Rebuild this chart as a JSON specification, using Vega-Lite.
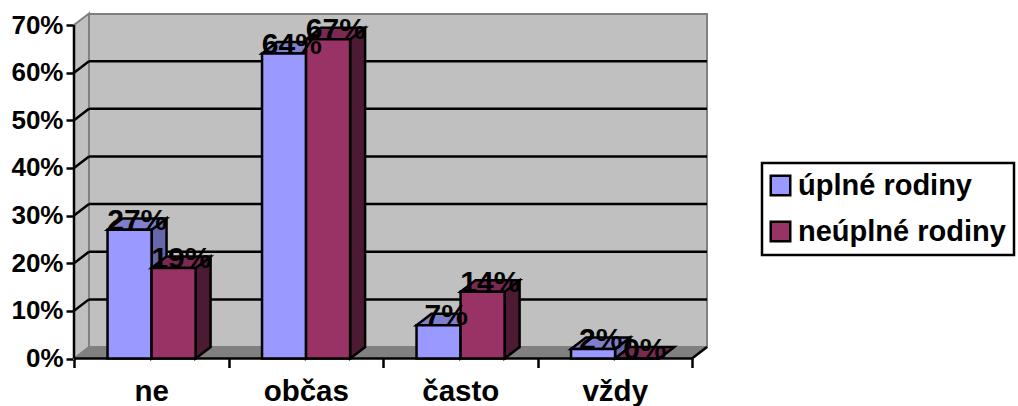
{
"$schema":"https://vega.github.io/schema/vega-lite/v6.json",
"autosize":{"type":"none"},
"padding":{"left":74,"top":14,"right":311,"bottom":47.5},
"width":633,"height":344.5,
"background":"white",
"config":{"view":{"stroke":null},"text":{"font":"Liberation Sans"},"legend":{"strokeWidth":2.5}},
"datasets":{
"bars":[
{"kategorie":"ne","rodina":"úplné rodiny","podil":0.27},
{"kategorie":"občas","rodina":"úplné rodiny","podil":0.64},
{"kategorie":"často","rodina":"úplné rodiny","podil":0.07},
{"kategorie":"vždy","rodina":"úplné rodiny","podil":0.02},
{"kategorie":"ne","rodina":"neúplné rodiny","podil":0.19},
{"kategorie":"občas","rodina":"neúplné rodiny","podil":0.67},
{"kategorie":"často","rodina":"neúplné rodiny","podil":0.14},
{"kategorie":"vždy","rodina":"neúplné rodiny","podil":0.0}
],
"ticks":[{"v":0},{"v":0.1},{"v":0.2},{"v":0.3},{"v":0.4},{"v":0.5},{"v":0.6},{"v":0.7}],
"ends":[{"k":0},{"k":1}]
},
"data":{"name":"bars"},
"transform":[
{"calculate":"indexof(['ne','občas','často','vždy'],datum.kategorie)","as":"i"},
{"calculate":"datum.rodina=='úplné rodiny'?0:1","as":"s"},
{"calculate":"datum.i+0.217+datum.s*0.285","as":"x0"},
{"calculate":"datum.x0+0.285","as":"x1"},
{"calculate":"[0,1]","as":"k"},
{"flatten":["k"]}
],
"encoding":{
"x":{"field":"x","type":"quantitative","title":null,"stack":null,
"scale":{"domain":[0,4.097],"nice":false,"zero":false},
"axis":{"values":[0,0.5,1,1.5,2,2.5,3,3.5,4],"grid":false,"domain":false,"tickColor":"black","tickWidth":2.5,"tickSize":9,
"tickOpacity":{"expr":"datum.value%1==0?1:0"},
"labelExpr":"datum.value%1==0?'':['ne','občas','často','vždy'][floor(datum.value)]",
"labelFont":"Liberation Sans","labelFontWeight":"bold","labelFontSize":29.5,"labelColor":"black","labelPadding":10,"labelFlush":false,"labelOverlap":false,"labelBound":false}},
"y":{"field":"y","type":"quantitative","title":null,"stack":null,
"scale":{"domain":[0,0.7231],"nice":false,"zero":false},
"axis":{"values":[0,0.1,0.2,0.3,0.4,0.5,0.6,0.7],"format":".0%","grid":false,"domain":false,"tickColor":"black","tickWidth":2.5,"tickSize":8,
"labelFont":"Liberation Sans","labelFontWeight":"bold","labelFontSize":26,"labelColor":"black","labelPadding":3,"labelOverlap":false,"labelBound":false}}
},
"layer":[
{"data":{"name":"ends"},
"transform":[{"calculate":"datum.k*0.097","as":"x"},{"calculate":"datum.k*0.0241","as":"y"},{"calculate":"0.7+datum.k*0.0241","as":"y2"}],
"mark":{"type":"area","orient":"vertical","color":"#c0c0c0","stroke":"#808080","strokeWidth":2},
"encoding":{"y2":{"field":"y2"}}},
{"data":{"name":"ends"},
"transform":[{"filter":"datum.k==0"},{"calculate":"0.097","as":"x"},{"calculate":"4.097","as":"x2"},{"calculate":"0.0241","as":"y"},{"calculate":"0.7231","as":"y2"}],
"mark":{"type":"rect","color":"#c0c0c0","stroke":"#808080","strokeWidth":2},
"encoding":{"x2":{"field":"x2"},"y2":{"field":"y2"}}},
{"data":{"name":"ends"},
"transform":[{"calculate":"datum.k*0.097","as":"x"},{"calculate":"4+datum.k*0.097","as":"x2"},{"calculate":"datum.k*0.0241","as":"y"}],
"mark":{"type":"area","orient":"horizontal","color":"#808080"},
"encoding":{"x2":{"field":"x2"}}},
{"data":{"name":"ticks"},
"transform":[{"filter":"datum.v>0&&datum.v<0.7"},{"calculate":"0.097","as":"x"},{"calculate":"4.097","as":"x2"},{"calculate":"datum.v+0.0241","as":"y"}],
"mark":{"type":"rule","color":"black","strokeWidth":2.5},
"encoding":{"x2":{"field":"x2"}}},
{"data":{"name":"ticks"},
"transform":[{"filter":"datum.v>0&&datum.v<0.7"},{"calculate":"0","as":"x"},{"calculate":"0.097","as":"x2"},{"calculate":"datum.v","as":"y"},{"calculate":"datum.v+0.0241","as":"y2"}],
"mark":{"type":"rule","color":"black","strokeWidth":2.5},
"encoding":{"x2":{"field":"x2"},"y2":{"field":"y2"}}},
{"data":{"name":"ticks"},
"transform":[{"filter":"datum.v==0"},{"calculate":"0","as":"x"},{"calculate":"0","as":"x2"},{"calculate":"0","as":"y"},{"calculate":"0.7","as":"y2"}],
"mark":{"type":"rule","color":"black","strokeWidth":2.5},
"encoding":{"x2":{"field":"x2"},"y2":{"field":"y2"}}},
{"data":{"name":"ticks"},
"transform":[{"filter":"datum.v==0"},{"calculate":"0","as":"x"},{"calculate":"4","as":"x2"},{"calculate":"0","as":"y"}],
"mark":{"type":"rule","color":"black","strokeWidth":2.5},
"encoding":{"x2":{"field":"x2"}}},
{"data":{"name":"ticks"},
"transform":[{"filter":"datum.v==0"},{"calculate":"4","as":"x"},{"calculate":"4.097","as":"x2"},{"calculate":"0","as":"y"},{"calculate":"0.0241","as":"y2"}],
"mark":{"type":"rule","color":"black","strokeWidth":2.5},
"encoding":{"x2":{"field":"x2"},"y2":{"field":"y2"}}},

{"transform":[{"filter":"datum.s==0"},{"calculate":"datum.x1+datum.k*0.097","as":"x"},{"calculate":"datum.k*0.0241","as":"y"},{"calculate":"datum.podil+datum.k*0.0241","as":"y2"}],
"mark":{"type":"area","orient":"vertical","color":"#6666aa","stroke":"black","strokeWidth":2.5},
"encoding":{"y2":{"field":"y2"},"detail":{"field":"kategorie"}}},
{"transform":[{"filter":"datum.s==0"},{"calculate":"datum.x0+datum.k*0.097","as":"x"},{"calculate":"datum.x1+datum.k*0.097","as":"x2"},{"calculate":"datum.podil+datum.k*0.0241","as":"y"}],
"mark":{"type":"area","orient":"horizontal","color":"#7f7fcc","stroke":"black","strokeWidth":2.5},
"encoding":{"x2":{"field":"x2"},"detail":{"field":"kategorie"}}},
{"transform":[{"filter":"datum.s==0&&datum.k==0"},{"calculate":"datum.x0","as":"x"},{"calculate":"datum.x1","as":"x2"},{"calculate":"0","as":"y"},{"calculate":"datum.podil","as":"y2"}],
"mark":{"type":"rect","stroke":"black","strokeWidth":2.5},
"encoding":{"x2":{"field":"x2"},"y2":{"field":"y2"},
"color":{"field":"rodina","type":"nominal","title":null,
"scale":{"domain":["úplné rodiny","neúplné rodiny"],"range":["#9999ff","#993366"]},
"legend":{"orient":"none","legendX":688,"legendY":149,"padding":8,"fillColor":"white","strokeColor":"black",
"symbolType":"square","symbolSize":380,"symbolStrokeColor":"black","symbolStrokeWidth":2.5,"symbolOpacity":1,"symbolOffset":-4,
"labelFont":"Liberation Sans","labelFontWeight":"bold","labelFontSize":29,"labelColor":"black","labelOffset":3,"rowPadding":15,"labelLimit":400}}}},

{"transform":[{"filter":"datum.s==1"},{"calculate":"datum.x1+datum.k*0.097","as":"x"},{"calculate":"datum.k*0.0241","as":"y"},{"calculate":"datum.podil+datum.k*0.0241","as":"y2"}],
"mark":{"type":"area","orient":"vertical","color":"#4d1a33","stroke":"black","strokeWidth":2.5},
"encoding":{"y2":{"field":"y2"},"detail":{"field":"kategorie"}}},
{"transform":[{"filter":"datum.s==1"},{"calculate":"datum.x0+datum.k*0.097","as":"x"},{"calculate":"datum.x1+datum.k*0.097","as":"x2"},{"calculate":"datum.podil+datum.k*0.0241","as":"y"}],
"mark":{"type":"area","orient":"horizontal","color":"#7a2952","stroke":"black","strokeWidth":2.5},
"encoding":{"x2":{"field":"x2"},"detail":{"field":"kategorie"}}},
{"transform":[{"filter":"datum.s==1&&datum.k==0"},{"calculate":"datum.x0","as":"x"},{"calculate":"datum.x1","as":"x2"},{"calculate":"0","as":"y"},{"calculate":"datum.podil","as":"y2"}],
"mark":{"type":"rect","stroke":"black","strokeWidth":2.5},
"encoding":{"x2":{"field":"x2"},"y2":{"field":"y2"},"color":{"field":"rodina","type":"nominal","title":null}}},

{"transform":[{"filter":"datum.k==0"},{"calculate":"(datum.x0+datum.x1)/2+0.05","as":"x"},{"calculate":"datum.podil","as":"y"}],
"mark":{"type":"text","font":"Liberation Sans","fontWeight":"bold","fontSize":30,"color":"black","baseline":"alphabetic","align":"center"},
"encoding":{"text":{"field":"podil","type":"quantitative","format":".0%"}}}
]
}
